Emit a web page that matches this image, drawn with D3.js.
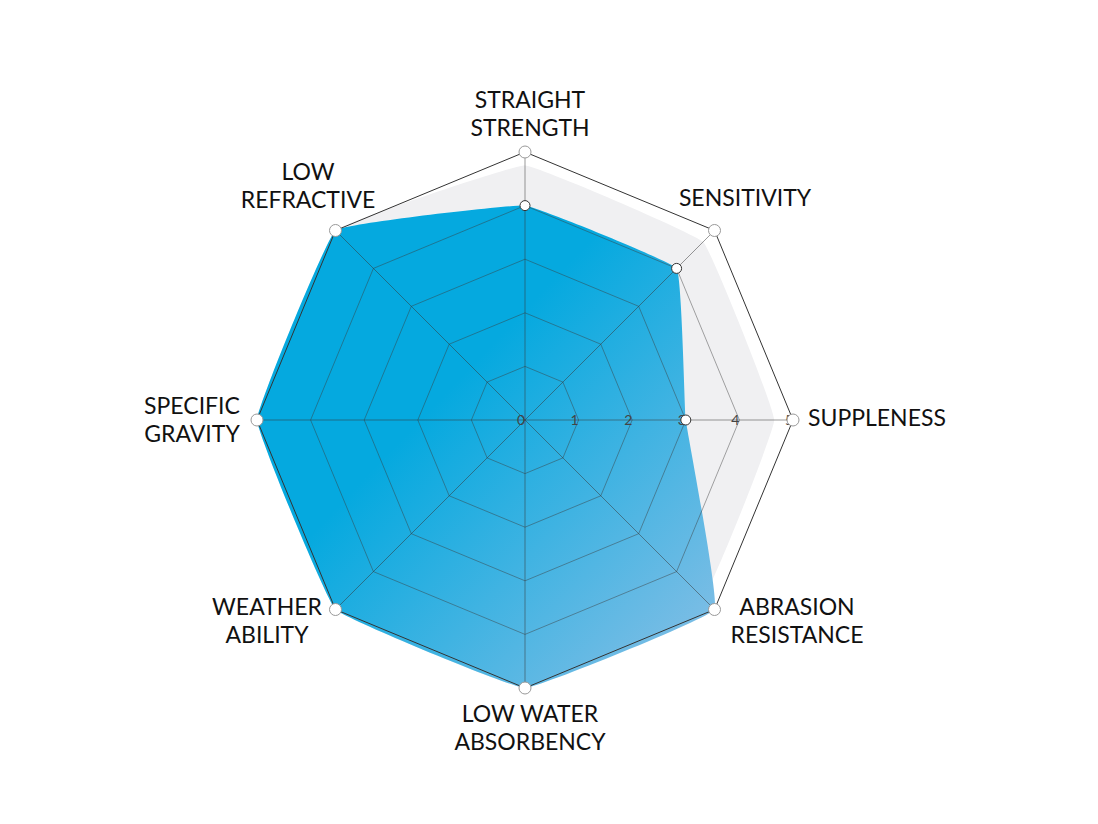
<!DOCTYPE html><html><head><meta charset="utf-8">
<script src="https://cdn.jsdelivr.net/npm/d3@7/dist/d3.min.js"></script>
<style>body{margin:0;background:#fff}svg{display:block}</style></head><body>
<svg id="c" width="1098" height="824"></svg>
<script>
const axes=[["STRAIGHT","STRENGTH"],["SENSITIVITY"],["SUPPLENESS"],["ABRASION","RESISTANCE"],["LOW WATER","ABSORBENCY"],["WEATHER","ABILITY"],["SPECIFIC","GRAVITY"],["LOW","REFRACTIVE"]];
const values=[4,4,3,5,5,5,5,5];
const bgValues=[4.75,4.7,4.65,4.7,5,5,5,5];
const ticks=[0,1,2,3,4,5];
const cx=525,cy=420;
const svg=d3.select("#c");
const r=d3.scaleLinear().domain([0,5]).range([0,268]);
const ang=i=>i*2*Math.PI/8;
const pt=(i,v)=>[cx+r(v)*Math.sin(ang(i)),cy-r(v)*Math.cos(ang(i))];
const defs=svg.append("defs");
const g=defs.append("linearGradient").attr("id","bl").attr("x1","0").attr("y1","0").attr("x2","1").attr("y2","1");
g.append("stop").attr("offset","0.4").attr("stop-color","#05a9df");
g.append("stop").attr("offset","1").attr("stop-color","#8cc0e6");
const line=d3.line().curve(d3.curveCardinalClosed.tension(0.8));
const lin=d3.line().curve(d3.curveLinearClosed);
svg.append("path").attr("d",line(bgValues.map((v,i)=>pt(i,v)))).attr("fill","#f0f0f2");
svg.append("path").attr("d",line(values.map((v,i)=>pt(i,v)))).attr("fill","url(#bl)");
ticks.slice(1,5).forEach(t=>svg.append("path").attr("d",lin(axes.map((a,i)=>pt(i,t)))).attr("fill","none").attr("stroke","#3a3a3a").attr("stroke-opacity",0.45).attr("stroke-width",1));
svg.append("path").attr("d",lin(axes.map((a,i)=>pt(i,5)))).attr("fill","none").attr("stroke","#333").attr("stroke-width",1);
axes.forEach((a,i)=>{const p=pt(i,5);svg.append("line").attr("x1",cx).attr("y1",cy).attr("x2",p[0]).attr("y2",p[1]).attr("stroke","#333").attr("stroke-opacity",0.5);});
ticks.forEach(t=>svg.append("text").attr("x",cx+r(t)-4).attr("y",cy+5).attr("text-anchor","middle").attr("font-family","Lato").attr("font-size",14).attr("fill","#444").text(t));
axes.forEach((a,i)=>{const p=pt(i,5);svg.append("circle").attr("cx",p[0]).attr("cy",p[1]).attr("r",6).attr("fill","#fff").attr("stroke","#999");});
values.forEach((v,i)=>{if(v<5){const p=pt(i,v);svg.append("circle").attr("cx",p[0]).attr("cy",p[1]).attr("r",5).attr("fill","#fff").attr("stroke","#333");}});
const lab=[[530,108,"middle"],[745,206,"middle"],[808,426,"start"],[797,615,"middle"],[530,722,"middle"],[267,615,"middle"],[192,414,"middle"],[308,180,"middle"]];
axes.forEach((a,i)=>{const [x,y,an]=lab[i];const t=svg.append("text").attr("x",x).attr("y",y).attr("text-anchor",an).attr("font-family","Lato").attr("font-size",23).attr("fill","#111");
a.forEach((s,k)=>t.append("tspan").attr("x",x).attr("dy",k?28:0).text(s));});
</script></body></html>
